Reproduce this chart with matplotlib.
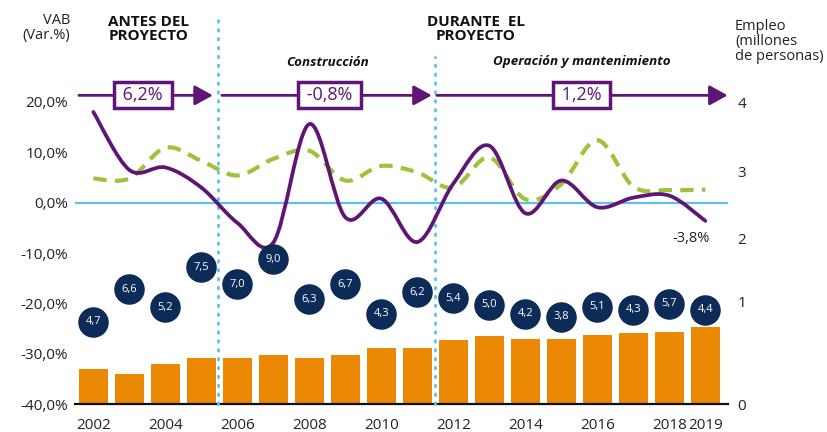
import numpy as np
import matplotlib
matplotlib.use("Agg")
import matplotlib.pyplot as plt
from matplotlib.path import Path
from matplotlib.patches import PathPatch, ArrowStyle

plt.rcParams['font.family'] = ['Open Sans', 'DejaVu Sans']

# Data
years = list(range(2002, 2020))
vab_purple = [18.0, 6.5, 7.0, 3.0, -4.0, -7.9, 15.6, -2.9, 0.8, -7.8,
              3.8, 11.3, -2.1, 4.4, -0.9, 1.0, 1.4, -3.6]
vab_green = [4.8, 4.8, 10.9, 8.3, 5.4, 8.7, 10.3, 4.4, 7.3, 6.0,
             3.0, 9.0, 0.7, 3.7, 12.4, 3.2, 2.5, 2.6]
empleo = [0.34, 0.29, 0.39, 0.45, 0.45, 0.48, 0.45, 0.48, 0.55, 0.55,
          0.62, 0.66, 0.63, 0.63, 0.67, 0.69, 0.70, 0.75]
circle_vals = [4.7, 6.6, 5.2, 7.5, 7.0, 9.0, 6.3, 6.7, 4.3, 6.2,
               5.4, 5.0, 4.2, 3.8, 5.1, 4.3, 5.7, 4.4]
circle_y = [-23.6, -17.2, -20.7, -12.8, -16.2, -11.2, -19.2, -16.2, -22.0, -17.8,
            -19.0, -20.2, -22.0, -22.6, -20.6, -21.2, -20.0, -21.2]
periods = [(2001.6, 2005.32, 2003.38, '6,2%'),
           (2005.57, 2011.40, 2008.57, '-0,8%'),
           (2011.54, 2019.62, 2015.57, '1,2%')]
xtick_years = [2002, 2004, 2006, 2008, 2010, 2012, 2014, 2016, 2018, 2019]
left_ticks = [20, 10, 0, -10, -20, -30, -40]
emp_tick_pos = [0, 1.0, 1.61, 2.26, 2.92]
emp_tick_lab = ['0', '1', '2', '3', '4']

purple = '#5e1575'
green = '#9cc33b'
orange = '#ec8904'
navy = '#0c2b57'
lblue = '#5bc2ee'


def smooth_path(xs, ys, t=1/6):
    # Catmull-Rom style bezier through the points
    verts = [(xs[0], ys[0])]
    codes = [Path.MOVETO]
    n = len(xs)
    for i in range(n - 1):
        x0, y0 = (xs[i - 1], ys[i - 1]) if i > 0 else (xs[i], ys[i])
        x1, y1 = xs[i], ys[i]
        x2, y2 = xs[i + 1], ys[i + 1]
        x3, y3 = (xs[i + 2], ys[i + 2]) if i + 2 < n else (x2, y2)
        verts += [(x1 + (x2 - x0) * t, y1 + (y2 - y0) * t),
                  (x2 - (x3 - x1) * t, y2 - (y3 - y1) * t),
                  (x2, y2)]
        codes += [Path.CURVE4] * 3
    return Path(verts, codes)


W, H = 827, 432
fig = plt.figure(figsize=(W / 100, H / 100), dpi=100)
ax = fig.add_axes([75 / W, 1 - 404.3 / H, 653 / W, 302.4 / H])
ax.set_xlim(2001.49, 2019.63)
ax.set_ylim(-40, 20)

ax2 = ax.twinx()
ax2.set_ylim(0, 2.93)
ax2.bar(years, empleo, width=0.8, color=orange, zorder=2)
ax2.set_yticks(emp_tick_pos)
ax2.set_yticklabels(emp_tick_lab)
ax2.tick_params(axis='y', length=0, pad=7, labelsize=11, colors='#222222')

for a in (ax, ax2):
    for s in a.spines.values():
        s.set_visible(False)
ax2.spines['bottom'].set_visible(True)
ax2.spines['bottom'].set_color('#111111')
ax2.spines['bottom'].set_linewidth(1.6)

ax.axhline(0, color=lblue, lw=1.6, zorder=1)

ax.set_yticks(left_ticks)
ax.set_yticklabels([f"{v:.1f}%".replace('.', ',') for v in left_ticks])
ax.tick_params(axis='y', length=0, pad=5, labelsize=11, colors='#222222')
ax.set_xticks(xtick_years)
ax.set_xticklabels([str(y) for y in xtick_years])
ax.tick_params(axis='x', length=0, pad=10, labelsize=11, colors='#222222')

# curves
ax2.add_patch(PathPatch(smooth_path(years, vab_green), fill=False,
                        transform=ax.transData, edgecolor=green, lw=3,
                        linestyle=(0, (3.2, 2.0)), zorder=3))
ax2.add_patch(PathPatch(smooth_path(years, vab_purple), fill=False,
                        transform=ax.transData, edgecolor=purple, lw=2.7,
                        capstyle='round', zorder=4))
ax2.text(years[-1] - 0.4, -7.2, '-3,8%', transform=ax.transData,
         ha='center', va='center', fontsize=10.5, color='#222222')

# circles
ax2.scatter(years, circle_y, s=440, color=navy, transform=ax.transData, zorder=5)
for x, y, v in zip(years, circle_y, circle_vals):
    ax2.text(x, y, f"{v:.1f}".replace('.', ','), transform=ax.transData,
             ha='center', va='center', color='white', fontsize=8, zorder=6)

# dotted separators
ax2.plot([2005.46, 2005.46], [-40, 20 + (101.9 - 13) / 5.04], transform=ax.transData,
         color=lblue, lw=2, linestyle=(0, (0.6, 2.6)), dash_capstyle='round',
         clip_on=False, zorder=3)
ax2.plot([2011.49, 2011.49], [-40, 20 + (101.9 - 57) / 5.04], transform=ax.transData,
         color=lblue, lw=2, linestyle=(0, (0.6, 2.6)), dash_capstyle='round',
         clip_on=False, zorder=3)

# period arrows
arrow_y = 21.3
for x0, x1, xc, lab in periods:
    ax2.annotate('', xy=(x1, arrow_y), xytext=(x0, arrow_y), xycoords=ax.transData,
                 textcoords=ax.transData, annotation_clip=False,
                 arrowprops=dict(arrowstyle=ArrowStyle('-|>', head_length=1.0, head_width=0.55),
                                 color=purple, lw=2, mutation_scale=11,
                                 shrinkA=0, shrinkB=0), zorder=6)
    ax2.text(xc, arrow_y, ' ' + lab + ' ', transform=ax.transData, ha='center', va='center',
             fontsize=13, color=purple, zorder=7, clip_on=False,
             bbox=dict(boxstyle='square,pad=0.22', fc='white', ec=purple, lw=2.5))

# header texts
fig.text(70 / W, 1 - 28 / H, 'VAB\n(Var.%)', ha='right', va='center', fontsize=10.5,
         color='#222222', linespacing=1.05)
fig.text(149 / W, 1 - 29 / H, 'ANTES DEL\nPROYECTO', ha='center', va='center',
         fontsize=11, fontweight='bold', color='#111111', linespacing=1.0)
fig.text(476 / W, 1 - 29 / H, 'DURANTE  EL\nPROYECTO', ha='center', va='center',
         fontsize=11, fontweight='bold', color='#111111', linespacing=1.0)
fig.text(328 / W, 1 - 62 / H, 'Construcción', ha='center', va='center',
         fontsize=9.6, fontweight='bold', fontstyle='italic', color='#111111')
fig.text(582 / W, 1 - 62 / H, 'Operación y mantenimiento', ha='center', va='center',
         fontsize=9.6, fontweight='bold', fontstyle='italic', color='#111111')
fig.text(735 / W, 1 - 41 / H, 'Empleo\n(millones\nde personas)', ha='left', va='center',
         fontsize=10.5, color='#222222', linespacing=1.0)

fig.savefig('out.png', dpi=100)
